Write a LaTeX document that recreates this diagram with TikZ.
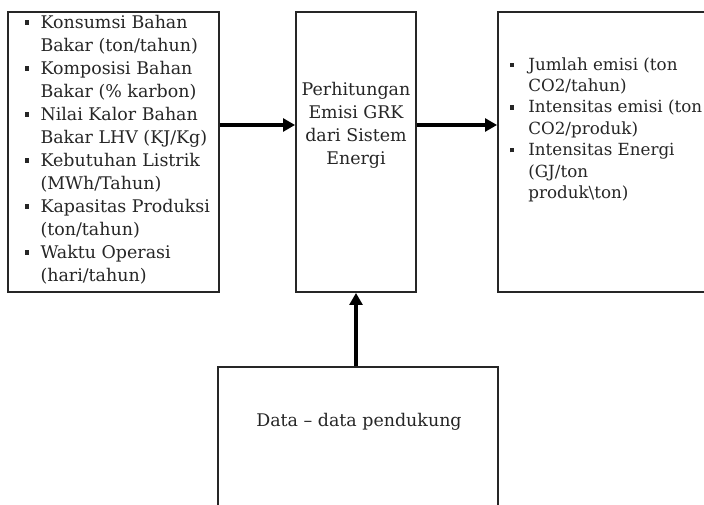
\documentclass[tikz,border=0pt]{standalone}
\usepackage{fontspec}
\setmainfont{DejaVu Serif}
\usepackage{xcolor}
\usepackage{tikz}
\usetikzlibrary{arrows.meta, positioning, calc}

\newcommand{\sqbullet}{\rule[0.2em]{2.6pt}{3pt}}

\begin{document}
\begin{tikzpicture}[
    >={Triangle[length=0.3cm, width=0.32cm]},
    box/.style={rectangle, draw=black!85, line width=1.3pt, inner sep=0pt, fill=white},
    txt/.style={text=black!85, font=\fontsize{12.4}{16.35}\selectfont, inner sep=0pt},
    arrow/.style={->, line width=2.2pt, draw=black}
]
\useasboundingbox (0,0) rectangle (17.6,12.625);
\clip (0,0) rectangle (17.6,12.625);

% =============================================================
% Boxes (the right one and the bottom one run off the page)
% =============================================================
\node[box, minimum width=5.275cm, minimum height=7cm] (inp) at (2.8375, 8.825) {};
\node[box, minimum width=3cm, minimum height=7cm] (calc) at (8.9, 8.825) {};
\node[box, minimum width=5.55cm, minimum height=7cm] (out) at (15.225, 8.825) {};
\node[box, minimum width=7cm, minimum height=3.95cm] (data) at (8.95, 1.475) {};

% =============================================================
% Texts
% =============================================================
\node[txt, anchor=west] (inptext) at (0.625, 8.875) {%
\begin{tabular}{@{}l@{\hspace{0.29cm}}l@{}}
\sqbullet & Konsumsi Bahan\\
 & Bakar (ton/tahun)\\
\sqbullet & Komposisi Bahan\\
 & Bakar (\% karbon)\\
\sqbullet & Nilai Kalor Bahan\\
 & Bakar LHV (KJ/Kg)\\
\sqbullet & Kebutuhan Listrik\\
 & (MWh/Tahun)\\
\sqbullet & Kapasitas Produksi\\
 & (ton/tahun)\\
\sqbullet & Waktu Operasi\\
 & (hari/tahun)
\end{tabular}};
\node[txt, align=center] (calctext) at (8.9, 9.5) {Perhitungan\\Emisi GRK\\dari Sistem\\Energi};
\node[txt, anchor=west, font=\fontsize{11.9}{15.2}\selectfont] (outtext) at (12.75, 9.375) {%
\begin{tabular}{@{}l@{\hspace{0.36cm}}l@{}}
\sqbullet & Jumlah emisi (ton\\
 & CO2/tahun)\\
\sqbullet & Intensitas emisi (ton\\
 & CO2/produk)\\
\sqbullet & Intensitas Energi\\
 & (GJ/ton\\
 & produk\textbackslash ton)
\end{tabular}};
\node[txt] (datatext) at (8.975, 2.075) {Data – data pendukung};

% =============================================================
% Arrows
% =============================================================
\draw[arrow] (inp.east |- calctext) -- (calc.west |- calctext);
\draw[arrow] (calc.east |- calctext) -- (out.west |- calctext);
\draw[arrow] (data.north -| calc) -- (calc.south);

\end{tikzpicture}
\end{document}
